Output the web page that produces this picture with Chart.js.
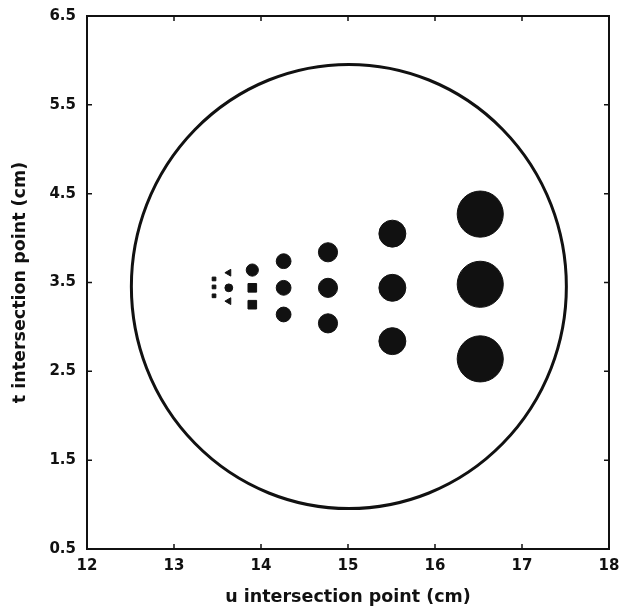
<!DOCTYPE html>
<html>
<head>
<meta charset="utf-8">
<script src="https://cdn.jsdelivr.net/npm/chart.js@4"></script>
<style>
    html, body { margin: 0; padding: 0; background: #fff; }
    #wrap { width: 620px; height: 612px; }
</style>
</head>
<body>
<div id="wrap"><canvas id="phantomChart" width="620" height="612"></canvas></div>
<script>
// rod columns of the phantom, u position (cm)
const columnU = [13.46, 13.63, 13.90, 14.26, 14.77, 15.51, 16.52];
// t position (cm) of the three rods in each column
const upperT = [3.54, 3.61, 3.64, 3.74, 3.84, 4.05, 4.27];
const middleT = [3.45, 3.44, 3.44, 3.44, 3.44, 3.44, 3.48];
const lowerT = [3.35, 3.29, 3.25, 3.14, 3.04, 2.84, 2.64];
// rod radius (cm)
const rodRadius = [0.03, 0.045, 0.07, 0.085, 0.11, 0.155, 0.265];

// outer cylinder: centre (u, t) and radius (cm)
const ringCenter = [15.01, 3.455];
const ringRadius = 2.5;

const xTicks = [12, 13, 14, 15, 16, 17, 18];
const yTicks = [0.5, 1.5, 2.5, 3.5, 4.5, 5.5, 6.5];

const INK = '#111';

function rowPoints(tValues) {
    return columnU.map((u, i) => ({ x: u, y: tValues[i] }));
}

// radius in pixels from a radius in cm, through the x scale
function pixelRadius(ctx) {
    const xs = ctx.chart.scales.x;
    const r = rodRadius[ctx.dataIndex];
    return Math.abs(xs.getPixelForValue(xs.min + r) - xs.getPixelForValue(xs.min));
}

function rodStyle(row) {
    return function (ctx) {
        const i = ctx.dataIndex;
        if (i === 0) return 'rect';
        if (i === 1) return row === 'middle' ? 'circle' : 'triangle';
        if (i === 2) return row === 'upper' ? 'circle' : 'rect';
        return 'circle';
    };
}

function rodDataset(label, tValues, row) {
    return {
        label: label,
        data: rowPoints(tValues),
        showLine: false,
        backgroundColor: INK,
        borderColor: INK,
        borderWidth: 1,
        pointStyle: rodStyle(row),
        pointRotation: ctx => (ctx.dataIndex === 1 ? -90 : 0),
        pointRadius: pixelRadius,
        pointHoverRadius: pixelRadius,
    };
}

// draws the outer ring, the frame and the inward tick marks
const framePlugin = {
    id: 'framePlugin',
    beforeDatasetsDraw(chart) {
        const { ctx, scales } = chart;
        const cx = scales.x.getPixelForValue(ringCenter[0]);
        const cy = scales.y.getPixelForValue(ringCenter[1]);
        const rx = Math.abs(scales.x.getPixelForValue(ringCenter[0] + ringRadius) - cx);
        const ry = Math.abs(scales.y.getPixelForValue(ringCenter[1] + ringRadius) - cy);
        ctx.save();
        ctx.strokeStyle = INK;
        ctx.lineWidth = 3;
        ctx.beginPath();
        ctx.ellipse(cx, cy, rx, ry, 0, 0, Math.PI * 2);
        ctx.stroke();
        ctx.restore();
    },
    afterDraw(chart) {
        const { ctx, chartArea: a, scales } = chart;
        ctx.save();
        ctx.strokeStyle = INK;
        ctx.lineWidth = 2;
        ctx.strokeRect(a.left, a.top, a.right - a.left, a.bottom - a.top);
        ctx.lineWidth = 1.5;
        ctx.beginPath();
        xTicks.forEach(v => {
            const px = scales.x.getPixelForValue(v);
            ctx.moveTo(px, a.bottom);
            ctx.lineTo(px, a.bottom - 5);
            ctx.moveTo(px, a.top);
            ctx.lineTo(px, a.top + 5);
        });
        yTicks.forEach(v => {
            const py = scales.y.getPixelForValue(v);
            ctx.moveTo(a.left, py);
            ctx.lineTo(a.left + 5, py);
            ctx.moveTo(a.right, py);
            ctx.lineTo(a.right - 5, py);
        });
        ctx.stroke();
        ctx.restore();
    },
};

const tickFont = { family: '"DejaVu Sans", sans-serif', size: 15, weight: 'bold' };
const titleFont = { family: '"DejaVu Sans", sans-serif', size: 17.5, weight: 'bold' };

new Chart(document.getElementById('phantomChart'), {
    type: 'scatter',
    data: {
        datasets: [
            rodDataset('upper', upperT, 'upper'),
            rodDataset('middle', middleT, 'middle'),
            rodDataset('lower', lowerT, 'lower'),
        ],
    },
    options: {
        responsive: false,
        animation: false,
        layout: {
            padding: { left: 6, top: 16, right: 11, bottom: 0 },
        },
        plugins: {
            legend: { display: false },
            tooltip: { enabled: false },
        },
        scales: {
            x: {
                type: 'linear',
                min: 12,
                max: 18,
                afterBuildTicks: scale => {
                    scale.ticks = xTicks.map(v => ({ value: v }));
                },
                afterFit: scale => {
                    scale.height = 63;
                    scale.paddingLeft = 0;
                    scale.paddingRight = 0;
                },
                grid: { display: false, drawTicks: false },
                border: { display: false },
                ticks: {
                    font: tickFont,
                    color: INK,
                    padding: 8,
                    maxRotation: 0,
                    callback: v => String(v),
                },
                title: {
                    display: true,
                    text: 'u intersection point (cm)',
                    font: titleFont,
                    color: INK,
                    padding: { top: 4, bottom: 4 },
                },
            },
            y: {
                type: 'linear',
                min: 0.5,
                max: 6.5,
                afterBuildTicks: scale => {
                    scale.ticks = yTicks.map(v => ({ value: v }));
                },
                afterFit: scale => {
                    scale.width = 81;
                    scale.paddingTop = 0;
                    scale.paddingBottom = 0;
                },
                grid: { display: false, drawTicks: false },
                border: { display: false },
                ticks: {
                    font: tickFont,
                    color: INK,
                    padding: 11,
                    callback: v => v.toFixed(1),
                },
                title: {
                    display: true,
                    text: 't intersection point (cm)',
                    font: titleFont,
                    color: INK,
                    padding: { top: 4, bottom: 4 },
                },
            },
        },
    },
    plugins: [framePlugin],
});
</script>
</body>
</html>
